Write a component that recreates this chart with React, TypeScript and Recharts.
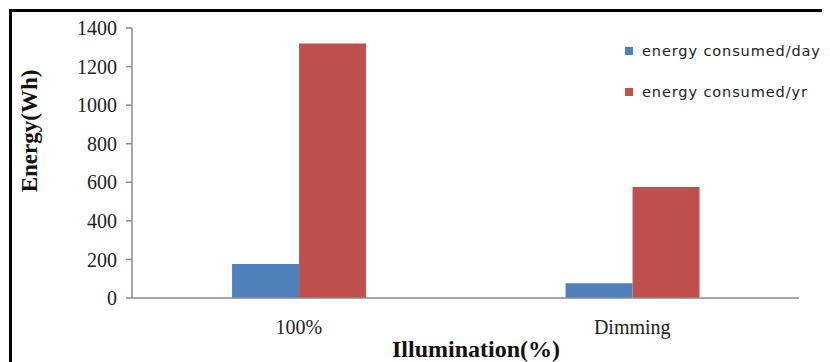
import React from 'react';
import { BarChart, Bar, XAxis, YAxis, Legend } from 'recharts';

const categories = ['100%', 'Dimming'];
const perDay = [176, 76];
const perYear = [1320, 575];
const yTicks = [0, 200, 400, 600, 800, 1000, 1200, 1400];
const seriesNames = ['energy consumed/day', 'energy consumed/yr'];
const seriesColors = ['#4F81BD', '#C0504D'];

const data = categories.map((c, i) => ({ name: c, day: perDay[i], yr: perYear[i] }));

const serif = '"Liberation Serif", "Times New Roman", serif';

const LegendContent = () => (
  <div style={{ fontFamily: '"DejaVu Sans", Verdana, sans-serif', fontSize: 14.5, letterSpacing: 0.9, color: '#222' }}>
    {seriesNames.map((n, i) => (
      <div key={n} style={{ display: 'flex', alignItems: 'center', height: 20, marginBottom: i === 0 ? 21 : 0, whiteSpace: 'nowrap' }}>
        <span style={{ display: 'inline-block', width: 8, height: 8, background: seriesColors[i], marginRight: 9 }} />
        <span>{n}</span>
      </div>
    ))}
  </div>
);

export default function App() {
  return (
    <div style={{ position: 'relative', width: 830, height: 362, marginLeft: -8, marginTop: -8, overflow: 'hidden', background: '#fff' }}>
      <div style={{ position: 'absolute', left: 9, top: 9, width: 900, height: 500, borderTop: '3px solid #000', borderLeft: '3px solid #000' }} />
      <div style={{ position: 'absolute', left: 0, top: 0 }}>
        <BarChart
          width={830}
          height={362}
          data={data}
          margin={{ top: 28, right: 31, left: 0, bottom: 0 }}
          barCategoryGap="30%"
          barGap={0}
        >
          <XAxis
            dataKey="name"
            tickLine={false}
            tickSize={0}
            tickMargin={22}
            axisLine={{ stroke: '#8a8a8a', strokeWidth: 1.5 }}
            tick={{ fontFamily: serif, fontSize: 20, fill: '#222' }}
            height={64}
            label={(props: any) => (
              <text x={476} y={357} textAnchor="middle" fontFamily={serif} fontWeight="bold" fontSize={24} fill="#111">
                Illumination(%)
              </text>
            )}
          />
          <YAxis
            width={132}
            domain={[0, 1400]}
            ticks={yTicks}
            interval={0}
            tickSize={6}
            tickMargin={9}
            axisLine={{ stroke: '#8a8a8a', strokeWidth: 1.5 }}
            tickLine={{ stroke: '#8a8a8a', strokeWidth: 1.5 }}
            tick={{ fontFamily: serif, fontSize: 20, fill: '#222' }}
            label={(props: any) => (
              <text
                x={37}
                y={131}
                textAnchor="middle"
                transform="rotate(-90, 37, 131)"
                fontFamily={serif}
                fontWeight="bold"
                fontSize={23}
                fill="#111"
              >
                Energy(Wh)
              </text>
            )}
          />
          <Legend
            layout="vertical"
            align="center"
            verticalAlign="middle"
            wrapperStyle={{ left: 625, top: 41, width: 220 }}
            content={<LegendContent />}
          />
          <Bar dataKey="day" name={seriesNames[0]} fill={seriesColors[0]} isAnimationActive={false} />
          <Bar dataKey="yr" name={seriesNames[1]} fill={seriesColors[1]} isAnimationActive={false} />
        </BarChart>
      </div>
    </div>
  );
}
